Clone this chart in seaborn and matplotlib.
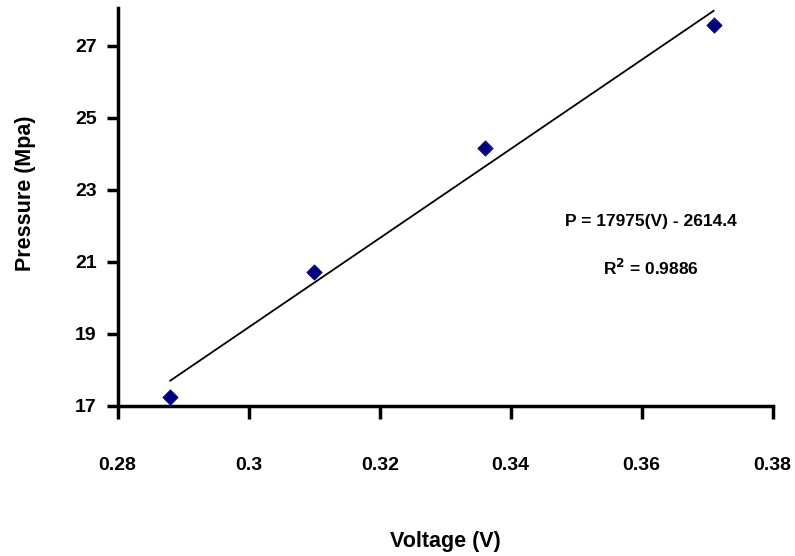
import numpy as np
import pandas as pd
import seaborn as sns
import matplotlib.pyplot as plt

voltage = [0.288, 0.310, 0.336, 0.371]
pressure = [17.25, 20.72, 24.17, 27.58]
x_ticks = [0.28, 0.30, 0.32, 0.34, 0.36, 0.38]
x_tick_labels = ['0.28', '0.3', '0.32', '0.34', '0.36', '0.38']
y_ticks = [17, 19, 21, 23, 25, 27]
eq_text = 'P = 17975(V) - 2614.4'
r2_text = 'R$^2$ = 0.9886'

df = pd.DataFrame({'Voltage': voltage, 'Pressure': pressure})

sns.set_style('ticks')
plt.rcParams['font.family'] = ['Liberation Sans', 'DejaVu Sans']
plt.rcParams['font.weight'] = 'bold'
plt.rcParams['text.color'] = 'black'
plt.rcParams['axes.labelcolor'] = 'black'
plt.rcParams['xtick.color'] = 'black'
plt.rcParams['ytick.color'] = 'black'
plt.rcParams['mathtext.default'] = 'bf'

fig = plt.figure(figsize=(7.95, 5.56), dpi=100)
ax = fig.add_axes([0.148, 0.270, 0.824, 0.716])

## trend line
sns.regplot(data=df, x='Voltage', y='Pressure', ax=ax, scatter=False, ci=None,
            truncate=True, line_kws={'color': 'black', 'lw': 1.3})
## points
sns.scatterplot(data=df, x='Voltage', y='Pressure', ax=ax, marker='D', s=60,
                color='#00007f', edgecolor='#00007f', zorder=5)

ax.set_xlim(0.28, 0.38)
ax.set_ylim(17, 28.05)
ax.set_xticks(x_ticks)
ax.set_xticklabels(x_tick_labels)
ax.set_yticks(y_ticks)
sns.despine(ax=ax)
for s in ['left', 'bottom']:
    ax.spines[s].set_linewidth(2.5)
    ax.spines[s].set_color('black')
ax.tick_params(axis='x', direction='out', length=9, width=2.5, pad=28, labelsize=14)
ax.tick_params(axis='y', direction='out', length=8, width=2.5, pad=7, labelsize=14)
for lab in ax.get_xticklabels() + ax.get_yticklabels():
    lab.set_fontweight('bold')

ax.set_xlabel('Voltage (V)', fontsize=15.5, fontweight='bold')
ax.set_ylabel('Pressure (Mpa)', fontsize=15.5, fontweight='bold')
ax.xaxis.set_label_coords(0.5, -0.315)
ax.yaxis.set_label_coords(-0.124, 0.533)

ax.text(0.3614, 22.11, eq_text, ha='center', va='center', fontsize=12.5, fontweight='bold')
ax.text(0.3614, 20.83, r2_text, ha='center', va='center', fontsize=12.5, fontweight='bold')

fig.savefig('out.png', dpi=100)
